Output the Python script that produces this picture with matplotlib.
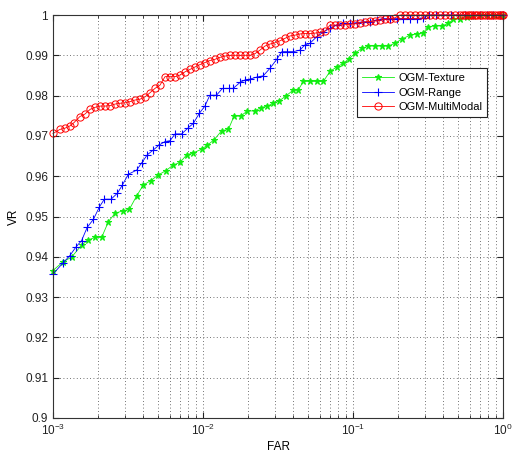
import numpy as np
import matplotlib
matplotlib.use('Agg')
import matplotlib.pyplot as plt
from matplotlib.ticker import FuncFormatter, NullFormatter, LogLocator

plt.rcParams['font.family'] = ['Liberation Sans', 'DejaVu Sans']

# OGM-Texture
far_tex = [0.00100, 0.00117, 0.00133, 0.00155, 0.00172, 0.00190, 0.00211, 0.00234, 0.00259,
           0.00292, 0.00323, 0.00361, 0.00400, 0.00448, 0.00503, 0.00567, 0.00634, 0.00702,
           0.00779, 0.00862, 0.00980, 0.01069, 0.01184, 0.01333, 0.01476, 0.0161, 0.01784,
           0.01974, 0.02222, 0.02425, 0.02684, 0.02942, 0.03225, 0.03573, 0.03999, 0.04313,
           0.04667, 0.05168, 0.05728, 0.06339, 0.07025, 0.07786, 0.08618, 0.09441, 0.1031,
           0.1142, 0.1264, 0.1401, 0.1552, 0.1718, 0.1905, 0.2112, 0.2399, 0.2658, 0.2943,
           0.3177, 0.3521, 0.3902, 0.4319, 0.4665, 0.5166, 0.5724, 0.6337, 0.7025, 0.7786,
           0.8618, 0.9537, 1.0]
vr_tex = [0.9366, 0.9388, 0.9399, 0.9429, 0.9442, 0.9448, 0.9448, 0.9487, 0.9508,
          0.9514, 0.9518, 0.9551, 0.9578, 0.9589, 0.9603, 0.9614, 0.9628, 0.9634,
          0.9653, 0.9658, 0.9667, 0.9677, 0.9690, 0.9713, 0.9716, 0.9749, 0.9749,
          0.9762, 0.9762, 0.9770, 0.9774, 0.9781, 0.9787, 0.9799, 0.9814, 0.9814,
          0.9835, 0.9835, 0.9835, 0.9835, 0.9860, 0.9871, 0.9880, 0.9892, 0.9905,
          0.9917, 0.9923, 0.9923, 0.9923, 0.9923, 0.9930, 0.9940, 0.9950, 0.9953, 0.9956,
          0.9971, 0.9973, 0.9973, 0.9979, 0.9989, 0.9991, 0.9995, 0.9997, 1.0, 1.0,
          1.0, 1.0, 1.0]

# OGM-Range
far_rng = [0.00100, 0.00116, 0.00129, 0.00142, 0.00155, 0.00169, 0.00186, 0.00204, 0.00220,
           0.00244, 0.00269, 0.00290, 0.00318, 0.00361, 0.00390, 0.00425, 0.00466, 0.00509,
           0.00558, 0.00603, 0.00651, 0.00721, 0.00791, 0.00862, 0.00945, 0.0103, 0.0111,
           0.0123, 0.0135, 0.0148, 0.0159, 0.0177, 0.0191, 0.0206, 0.0228, 0.0252, 0.0280,
           0.0310, 0.0335, 0.0361, 0.0400, 0.0443, 0.0479, 0.0517, 0.0573, 0.0634, 0.0703,
           0.0779, 0.0862, 0.0955, 0.1057, 0.1171, 0.1298, 0.1438, 0.1591, 0.1765, 0.1955,
           0.2150, 0.2400, 0.2658, 0.2943, 0.32, 0.36, 0.40, 0.45, 0.50, 0.56, 0.63, 0.70,
           0.78, 0.86, 0.95, 1.0]
vr_rng = [0.9357, 0.9384, 0.9402, 0.9424, 0.9440, 0.9473, 0.9493, 0.9524, 0.9543,
          0.9543, 0.9558, 0.9578, 0.9605, 0.9615, 0.9633, 0.9653, 0.9665, 0.9677,
          0.9686, 0.9688, 0.9705, 0.9705, 0.9719, 0.9731, 0.9756, 0.9774, 0.9801,
          0.9801, 0.9818, 0.9818, 0.9818, 0.9833, 0.9839, 0.9841, 0.9846, 0.9849, 0.9868,
          0.9890, 0.9909, 0.9909, 0.9909, 0.9913, 0.9926, 0.9930, 0.9946, 0.9958, 0.9967,
          0.9975, 0.9979, 0.9979, 0.9981, 0.9983, 0.9983, 0.9988, 0.9991, 0.9991, 0.9991,
          0.9991, 0.9991, 0.9991, 0.9993, 1.0, 1.0, 1.0, 1.0, 1.0, 1.0, 1.0, 1.0,
          1.0, 1.0, 1.0, 1.0]

# OGM-MultiModal
far_mm = [0.00100, 0.00111, 0.00120, 0.00130, 0.00138, 0.00151, 0.00163, 0.00177, 0.00191,
          0.00206, 0.00222, 0.00240, 0.00259, 0.00280, 0.00302, 0.00326, 0.00352, 0.00380,
          0.00411, 0.00443, 0.00479, 0.00517, 0.00558, 0.00603, 0.00651, 0.00703, 0.00759,
          0.00819, 0.00884, 0.00955, 0.0103, 0.0111, 0.0120, 0.0130, 0.0140, 0.0151, 0.0163,
          0.0177, 0.0191, 0.0206, 0.0222, 0.0240, 0.0259, 0.0280, 0.0302, 0.0326, 0.0352,
          0.0380, 0.0411, 0.0443, 0.0479, 0.0517, 0.0558, 0.0603, 0.0651, 0.0703, 0.0759,
          0.0819, 0.0884, 0.0955, 0.1031, 0.1113, 0.1202, 0.1298, 0.1401, 0.1514, 0.1634,
          0.1765, 0.1905, 0.2057, 0.222, 0.240, 0.259, 0.280, 0.302, 0.326, 0.352, 0.380,
          0.411, 0.443, 0.479, 0.517, 0.540, 0.558, 0.580, 0.603, 0.625, 0.651, 0.675, 0.703,
          0.730, 0.759, 0.790, 0.819, 0.850, 0.884, 0.920, 0.955, 0.980, 1.0]
vr_mm = [0.9706, 0.9716, 0.9719, 0.9725, 0.9733, 0.9748, 0.9754, 0.9766, 0.9771,
         0.9774, 0.9774, 0.9775, 0.9779, 0.9781, 0.9782, 0.9785, 0.9789, 0.9791,
         0.9797, 0.9807, 0.9818, 0.9826, 0.9847, 0.9847, 0.9847, 0.9851, 0.9859,
         0.9865, 0.9871, 0.9877, 0.9882, 0.9887, 0.9890, 0.9895, 0.9898, 0.9900, 0.9900,
         0.9900, 0.9900, 0.9900, 0.9904, 0.9913, 0.9923, 0.9928, 0.9931, 0.9936, 0.9942,
         0.9948, 0.9950, 0.9953, 0.9954, 0.9954, 0.9955, 0.9957, 0.9960, 0.9975, 0.9975,
         0.9975, 0.9976, 0.9977, 0.9978, 0.9981, 0.9983, 0.9984, 0.9985, 0.9987, 0.9989,
         0.9991, 0.9993, 1.0, 1.0, 1.0, 1.0, 1.0, 1.0, 1.0, 1.0, 1.0,
         1.0, 1.0, 1.0, 1.0, 1.0, 1.0, 1.0, 1.0, 1.0, 1.0, 1.0, 1.0,
         1.0, 1.0, 1.0, 1.0, 1.0, 1.0, 1.0, 1.0, 1.0, 1.0]

fig = plt.figure(figsize=(5.15, 4.54), dpi=100)
ax = fig.add_axes([53 / 515, 1 - 418 / 454, 450 / 515, 403 / 454])

ax.semilogx(far_tex, vr_tex, color='#11ee11', lw=0.6, marker='*', ms=5, mew=0.8,
            label='OGM-Texture', clip_on=False)
ax.semilogx(far_rng, vr_rng, color='#0000ff', lw=0.6, marker='+', ms=6, mew=0.8,
            label='OGM-Range', clip_on=False)
ax.semilogx(far_mm, vr_mm, color='#ff0000', lw=0.6, marker='o', ms=5.2, mew=0.7,
            mfc='none', label='OGM-MultiModal', clip_on=False)

ax.set_xlim(1e-3, 1)
ax.set_ylim(0.9, 1.0)
ax.set_yticks(np.arange(0.9, 1.0001, 0.01))
ax.yaxis.set_major_formatter(FuncFormatter(lambda v, p: '%g' % round(v, 2)))
ax.xaxis.set_minor_locator(LogLocator(base=10, subs=np.arange(2, 10)))
ax.xaxis.set_minor_formatter(NullFormatter())

grid_style = dict(linestyle=(0, (1, 3)), color='#444444', lw=0.6)
ax.grid(True, which='major', **grid_style)
ax.grid(True, which='minor', axis='x', **grid_style)

ax.tick_params(which='both', direction='in', top=True, right=True, labelsize=8.5,
               colors='#222222')
ax.tick_params(which='major', length=4)
ax.tick_params(which='minor', length=2)
for s in ax.spines.values():
    s.set_color('#333333')
    s.set_linewidth(0.8)

ax.set_xlabel('FAR', fontsize=8.5, labelpad=2)
ax.set_ylabel('VR', fontsize=8.5, labelpad=4)

leg = ax.legend(loc='upper left', bbox_to_anchor=(0.676, 0.868), borderaxespad=0,
                fontsize=8, fancybox=False, framealpha=1, edgecolor='#222222',
                handlelength=2.9, handletextpad=0.35, borderpad=0.45, labelspacing=0.4)
leg.get_frame().set_linewidth(0.8)

fig.savefig('out.png', dpi=100)
